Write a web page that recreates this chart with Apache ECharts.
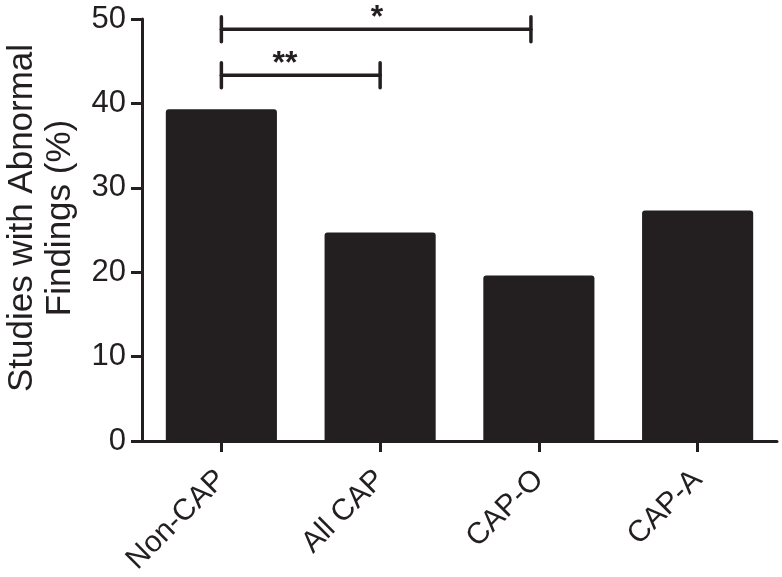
<!DOCTYPE html>
<html>
<head>
<meta charset="utf-8">
<script src="https://cdn.jsdelivr.net/npm/echarts@6/dist/echarts.min.js"></script>
<style>
html,body{margin:0;padding:0;background:#fff;}
#chart{width:782px;height:577px;}
</style>
</head>
<body>
<div id="chart"></div>
<script>
// ---- data ----
const categories = ['Non-CAP', 'All CAP', 'CAP-O', 'CAP-A'];
const values = [39.3, 24.7, 19.6, 27.3];
const yTicks = [0, 10, 20, 30, 40, 50];
// significance brackets: [startCategoryIndex, endCategoryIndex, yValue, labelAtIndex]
const bracketSpans = [[0, 1, 43.35, 0.40], [0, 1.95, 48.8, 0.98]];
const bracketLabels = ['**', '*'];

const ink = '#231f20';
const font = '"Liberation Sans", Arial, Helvetica, sans-serif';

const chart = echarts.init(document.getElementById('chart'), null, {renderer: 'canvas'});
const option = {
  animation: false,
  backgroundColor: '#fff',
  grid: {left: 142, right: 5, top: 19, bottom: 136, containLabel: false, outerBoundsMode: 'none'},
  xAxis: [{
    type: 'category',
    data: categories,
    boundaryGap: true,
    axisLine: {show: true, onZero: false, lineStyle: {color: ink, width: 3}},
    axisTick: {show: true, alignWithLabel: true, length: 11, lineStyle: {color: ink, width: 3}},
    axisLabel: {rotate: 45, margin: 34, color: ink, fontSize: 30, fontFamily: font, interval: 0},
    splitLine: {show: false}
  }, {
    type: 'value', min: -0.5, max: 3.5, show: false, position: 'bottom'
  }],
  yAxis: {
    type: 'value',
    min: yTicks[0], max: yTicks[yTicks.length - 1], interval: 10,
    name: 'Studies with Abnormal\nFindings (%)',
    nameLocation: 'middle', nameRotate: 90, nameGap: 63,
    nameTextStyle: {color: ink, fontSize: 35, fontFamily: font, lineHeight: 38, padding: [0, 0, 0, 24]},
    axisLine: {show: true, onZero: false, lineStyle: {color: ink, width: 3}},
    axisTick: {show: true, length: 11, lineStyle: {color: ink, width: 3}},
    axisLabel: {color: ink, fontSize: 31, fontFamily: font, margin: 16},
    splitLine: {show: false}
  },
  series: [{
    type: 'bar',
    data: values,
    barWidth: '70%',
    itemStyle: {color: ink, borderRadius: [3, 3, 0, 0]},
    xAxisIndex: 0
  }, {
    type: 'custom',
    xAxisIndex: 1,
    data: bracketSpans,
    silent: true,
    z: 5,
    renderItem: function (params, api) {
      const a = api.coord([api.value(0), api.value(2)]);
      const b = api.coord([api.value(1), api.value(2)]);
      const t = api.coord([api.value(3), api.value(2)]);
      const h = 12.5;
      const st = {stroke: ink, lineWidth: 3.5, lineCap: 'round'};
      return {
        type: 'group',
        children: [
          {type: 'line', shape: {x1: a[0], y1: a[1], x2: b[0], y2: b[1]}, style: st},
          {type: 'line', shape: {x1: a[0], y1: a[1] - h, x2: a[0], y2: a[1] + h}, style: st},
          {type: 'line', shape: {x1: b[0], y1: b[1] - h, x2: b[0], y2: b[1] + h}, style: st},
          {type: 'text', x: t[0], y: a[1] + 5,
           style: {text: bracketLabels[params.dataIndex], fill: ink, fontSize: 32, fontWeight: 'bold',
                   fontFamily: font, align: 'center', verticalAlign: 'bottom'}}
        ]
      };
    }
  }]
};
chart.setOption(option);
</script>
</body>
</html>
